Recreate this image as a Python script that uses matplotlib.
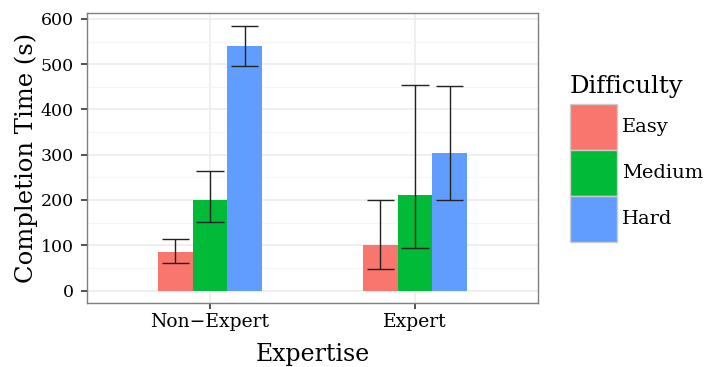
import matplotlib
matplotlib.use("Agg")
import matplotlib.pyplot as plt
from matplotlib.patches import Rectangle
import numpy as np

plt.rcParams['font.family'] = ['DejaVu Serif']

expertise = ["Non\u2212Expert", "Expert"]
difficulty = ["Easy", "Medium", "Hard"]
colors = ["#F8766D", "#00BA38", "#619CFF"]

# mean completion time per expertise, one list per difficulty
mean_time = {
    "Easy":   [85, 101],
    "Medium": [201, 210],
    "Hard":   [541, 303],
}
err_low = {
    "Easy":   [60, 48],
    "Medium": [151, 95],
    "Hard":   [497, 201],
}
err_high = {
    "Easy":   [114, 200],
    "Medium": [263, 455],
    "Hard":   [585, 451],
}
y_ticks = [0, 100, 200, 300, 400, 500, 600]

W, H = 706, 367
fig = plt.figure(figsize=(W / 100, H / 100), dpi=100)
ax = fig.add_axes([87 / W, (H - 303) / H, 451 / W, 290 / H])

x = np.arange(1, len(expertise) + 1)
bw = 0.51 / 3
ax.set_axisbelow(True)
for i, d in enumerate(difficulty):
    pos = x + (i - 1) * bw
    ax.bar(pos, mean_time[d], width=bw, color=colors[i], edgecolor='none', zorder=2)
    lo = np.array(err_low[d])
    hi = np.array(err_high[d])
    ax.vlines(pos, lo, hi, color='#222222', lw=1.0, zorder=3)
    ax.hlines(lo, pos - 0.066, pos + 0.066, color='#222222', lw=1.0, zorder=3)
    ax.hlines(hi, pos - 0.066, pos + 0.066, color='#222222', lw=1.0, zorder=3)

ax.set_xlim(0.4, 2.6)
ax.set_ylim(-27.5, 613)
ax.set_yticks(y_ticks)
ax.set_yticks([50, 150, 250, 350, 450, 550], minor=True)
ax.set_xticks(x)
ax.set_xticklabels(expertise)
ax.grid(True, which='major', color='#EBEBEB', lw=1.1)
ax.grid(True, which='minor', axis='y', color='#F5F5F5', lw=0.8)
ax.tick_params(which='minor', length=0)
ax.tick_params(which='major', length=4.5, width=1.2, color='#333333',
               labelcolor='black')
ax.tick_params(axis='x', labelsize=13.5, pad=3)
ax.tick_params(axis='y', labelsize=12.5, pad=5)
for s in ax.spines.values():
    s.set_color('#7F7F7F')
    s.set_linewidth(1.0)

ax.set_xlabel("Expertise", fontsize=17, labelpad=8)
ax.set_ylabel("Completion Time (s)", fontsize=17.5, labelpad=2)

# legend drawn in figure pixels
fig.text(570 / W, 1 - 86 / H, "Difficulty", fontsize=17.5, va='center', ha='left')
key_h = 46
for i, d in enumerate(difficulty):
    top = 104 + i * key_h
    fig.patches.append(Rectangle((570 / W, 1 - (top + key_h) / H), 47 / W, key_h / H,
                                 transform=fig.transFigure, facecolor=colors[i],
                                 edgecolor='#CCCCCC', lw=1.0))
    fig.text(622 / W, 1 - (top + key_h / 2) / H, d, fontsize=14, va='center', ha='left')

fig.savefig("out.png", dpi=100)
